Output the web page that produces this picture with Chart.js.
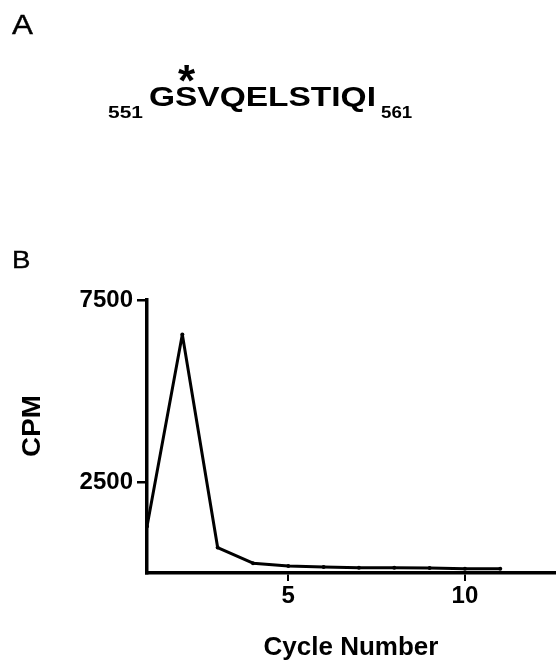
<!DOCTYPE html>
<html>
<head>
<meta charset="utf-8">
<script src="https://cdn.jsdelivr.net/npm/chart.js@4/dist/chart.umd.min.js"></script>
<style>
    html, body { margin: 0; padding: 0; background: #fff; }
    #page { position: relative; width: 559px; height: 663px; overflow: hidden; font-family: "Liberation Sans", Arial, sans-serif; color: #000; }
    #chart { position: absolute; left: 0; top: 0; }
    .lbl { position: absolute; line-height: 1; white-space: nowrap; transform-origin: 0 0; }
    .bold { font-weight: bold; }
</style>
</head>
<body>
<div id="page">
    <canvas id="chart" width="559" height="663"></canvas>

    <!-- panel A: peptide sequence -->
    <div class="lbl" style="left:12px; top:11px; font-size:28px; transform:scaleX(1.12); -webkit-text-stroke:0.4px #000;">A</div>
    <div class="lbl bold" style="left:178px; top:59px; font-size:44px;">*</div>
    <div class="lbl bold" style="left:108px; top:104px; font-size:17px; transform:scaleX(1.23);">551</div>
    <div class="lbl bold" style="left:149px; top:84px; font-size:27px; transform:scaleX(1.24);">GSVQELSTIQI</div>
    <div class="lbl bold" style="left:381px; top:104px; font-size:17px; transform:scaleX(1.1);">561</div>

    <!-- panel B -->
    <div class="lbl" style="left:12px; top:249px; font-size:23px; transform:scaleX(1.2); -webkit-text-stroke:0.4px #000;">B</div>
    <div class="lbl bold" style="left:31px; top:426px; font-size:26px; transform-origin:50% 50%; transform:translate(-50%,-50%) rotate(-90deg) scaleX(1.07);">CPM</div>
</div>

<script>
// Sequencing cycles and counts
const cycles = [1, 2, 3, 4, 5, 6, 7, 8, 9, 10, 11];
const cpm = [1280, 6550, 700, 270, 190, 165, 146, 146, 137, 120, 120];

const xTickValues = [5, 10];
const yTickValues = [2500, 7500];

const xLabel = 'Cycle Number';

const points = cycles.map((c, i) => ({ x: c, y: cpm[i] }));

const tickFont = { family: '"Liberation Sans", Arial, sans-serif', size: 24, weight: 'bold' };

new Chart(document.getElementById('chart'), {
    type: 'line',
    data: {
        datasets: [{
            data: points,
            borderColor: '#000',
            borderWidth: 3,
            borderJoinStyle: 'round',
            backgroundColor: '#000',
            pointRadius: 2,
            pointBorderWidth: 0,
            pointBackgroundColor: '#000',
            tension: 0,
            fill: false
        }]
    },
    options: {
        responsive: false,
        animation: false,
        layout: {
            padding: { top: 300, right: 0, bottom: 0, left: 0 }
        },
        plugins: {
            legend: { display: false },
            tooltip: { enabled: false }
        },
        scales: {
            x: {
                type: 'linear',
                min: 1,
                max: 12.55,
                afterBuildTicks: function(scale) {
                    scale.ticks = xTickValues.map(v => ({ value: v }));
                },
                afterFit: function(scale) {
                    scale.height = 90;
                },
                border: { display: true, color: '#000', width: 3.5 },
                grid: { drawOnChartArea: false, drawTicks: true, tickLength: 8, color: '#000', lineWidth: 2 },
                ticks: { color: '#000', font: tickFont, padding: 1, maxRotation: 0, callback: v => String(v) },
                title: {
                    display: true,
                    text: xLabel,
                    color: '#000',
                    font: { family: '"Liberation Sans", Arial, sans-serif', size: 26, weight: 'bold' },
                    padding: 0
                }
            },
            y: {
                type: 'linear',
                min: 0,
                max: 7500,
                afterBuildTicks: function(scale) {
                    scale.ticks = yTickValues.map(v => ({ value: v }));
                },
                afterFit: function(scale) {
                    scale.width = 147;
                },
                border: { display: true, color: '#000', width: 3.5 },
                grid: { drawOnChartArea: false, drawTicks: true, tickLength: 10, color: '#000', lineWidth: 2.5 },
                ticks: { color: '#000', font: tickFont, padding: 4, callback: v => String(v) }
            }
        }
    }
});
</script>
</body>
</html>
